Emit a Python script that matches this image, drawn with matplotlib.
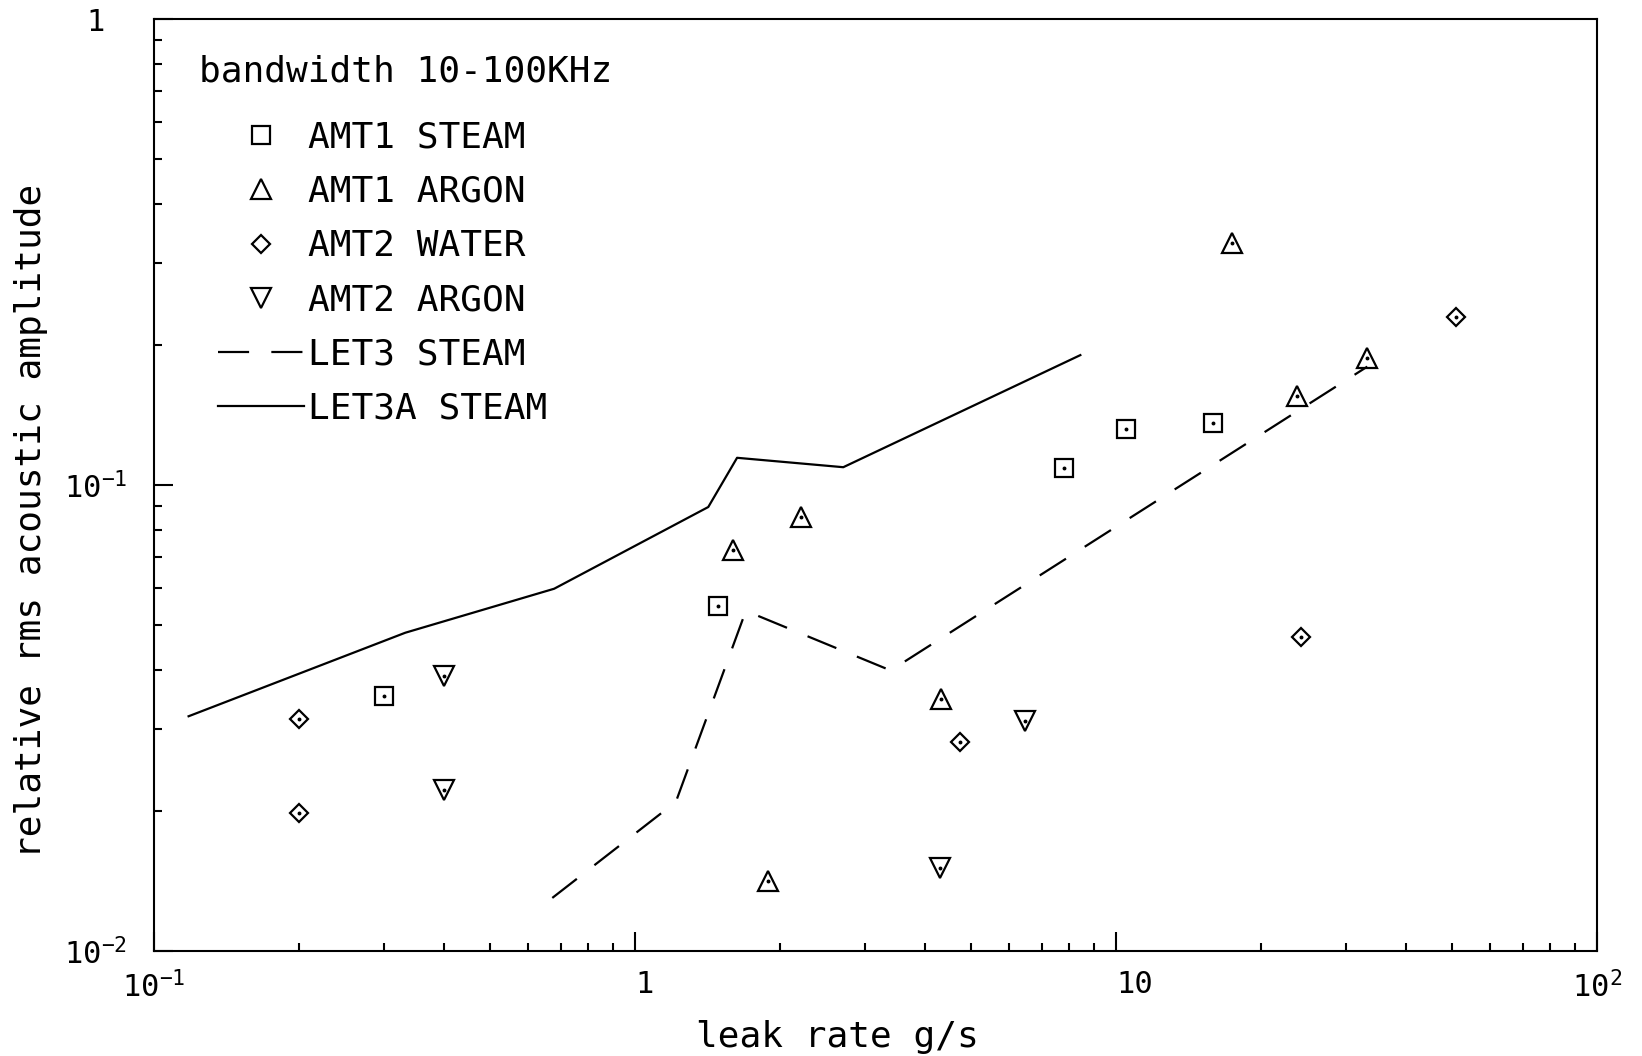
import matplotlib
matplotlib.use('Agg')
import matplotlib.pyplot as plt
from matplotlib.ticker import LogLocator, NullFormatter

plt.rcParams['font.family'] = ['DejaVu Sans Mono']
plt.rcParams['mathtext.fontset'] = 'custom'
plt.rcParams['mathtext.rm'] = 'DejaVu Sans Mono'

# data
amt1_steam_x = [0.30, 1.49, 7.8, 10.5, 15.9]
amt1_steam_y = [0.0353, 0.0551, 0.109, 0.1316, 0.136]

amt1_argon_x = [1.60, 1.89, 2.21, 4.33, 17.4, 23.8, 33.3]
amt1_argon_y = [0.0726, 0.0141, 0.0852, 0.0348, 0.330, 0.155, 0.187]

amt2_water_x = [0.2, 0.2, 4.73, 24.3, 51.0]
amt2_water_y = [0.0315, 0.0198, 0.0281, 0.0472, 0.229]

amt2_argon_x = [0.4, 0.4, 4.30, 6.46]
amt2_argon_y = [0.039, 0.0222, 0.0151, 0.0311]

let3_x = [0.673, 1.216, 1.70, 3.40, 33.3]
let3_y = [0.0130, 0.0209, 0.0537, 0.040, 0.1795]

let3a_x = [0.118, 0.333, 0.679, 1.42, 1.63, 2.71, 8.43]
let3a_y = [0.0319, 0.0482, 0.0599, 0.0897, 0.1144, 0.1092, 0.190]

xticks = [0.1, 1, 10, 100]
xticklabels = [r'$\mathrm{10^{-1}}$', '1', '10', r'$\mathrm{10^{2}}$']
yticks = [0.01, 0.1, 1]
yticklabels = [r'$\mathrm{10^{-2}}$', r'$\mathrm{10^{-1}}$', '1']

fig = plt.figure(figsize=(16.42, 10.56), dpi=100)
ax = fig.add_axes([0.0938, 0.0994, 0.8788, 0.8826])

mk = dict(linestyle='none', markerfacecolor='none', markeredgecolor='black', markeredgewidth=1.6)
h1, = ax.plot(amt1_steam_x, amt1_steam_y, marker='s', markersize=13, label='AMT1 STEAM', **mk)
h2, = ax.plot(amt1_argon_x, amt1_argon_y, marker='^', markersize=14, label='AMT1 ARGON', **mk)
h3, = ax.plot(amt2_water_x, amt2_water_y, marker='D', markersize=9, label='AMT2 WATER', **mk)
h4, = ax.plot(amt2_argon_x, amt2_argon_y, marker='v', markersize=14, label='AMT2 ARGON', **mk)

# centre dots of the plotter symbols
for xs, ys in [(amt1_steam_x, amt1_steam_y), (amt1_argon_x, amt1_argon_y),
               (amt2_water_x, amt2_water_y), (amt2_argon_x, amt2_argon_y)]:
    ax.plot(xs, ys, linestyle='none', marker='o', markersize=1.8, color='black')

h5, = ax.plot(let3_x, let3_y, color='black', lw=1.6, dashes=(14, 10), label='LET3 STEAM')
h6, = ax.plot(let3a_x, let3a_y, color='black', lw=1.6, label='LET3A STEAM')

ax.set_xscale('log')
ax.set_yscale('log')
ax.set_xlim(0.1, 100)
ax.set_ylim(0.01, 1)

ax.set_xticks(xticks)
ax.set_xticklabels(xticklabels)
ax.set_yticks(yticks)
ax.set_yticklabels(yticklabels)
ax.xaxis.set_minor_locator(LogLocator(base=10, subs=range(2, 10)))
ax.yaxis.set_minor_locator(LogLocator(base=10, subs=range(2, 10)))
ax.xaxis.set_minor_formatter(NullFormatter())
ax.yaxis.set_minor_formatter(NullFormatter())

ax.tick_params(which='both', direction='in', top=False, right=False, width=1.5, labelsize=22)
ax.tick_params(which='major', length=14)
ax.tick_params(which='minor', length=6)
ax.tick_params(axis='x', which='major', pad=14)
ax.tick_params(axis='y', which='major', pad=42)
for lab in ax.get_yticklabels():
    lab.set_horizontalalignment('center')
for lab in ax.get_xticklabels():
    if lab.get_text() in ('1', '10'):
        lab.set_horizontalalignment('left')

for sp in ax.spines.values():
    sp.set_linewidth(1.5)

ax.text(0.0312, 0.9438, 'bandwidth 10-100KHz', transform=ax.transAxes,
        ha='left', va='center', fontsize=26)
ax.legend(handles=[h1, h2, h3, h4, h5, h6], loc='upper left',
          bbox_to_anchor=(0.0218, 0.9257), frameon=False, fontsize=26,
          handlelength=2.38, handletextpad=0.12, labelspacing=0.56)

fig.text(30 / 1568, 1 - 497 / 1008, 'relative rms acoustic amplitude',
         rotation=90, ha='center', va='center', fontsize=26)
fig.text(800 / 1568, 1 - 990 / 1008, 'leak rate g/s', ha='center', va='center', fontsize=26)

fig.savefig('out.png', dpi=100)
